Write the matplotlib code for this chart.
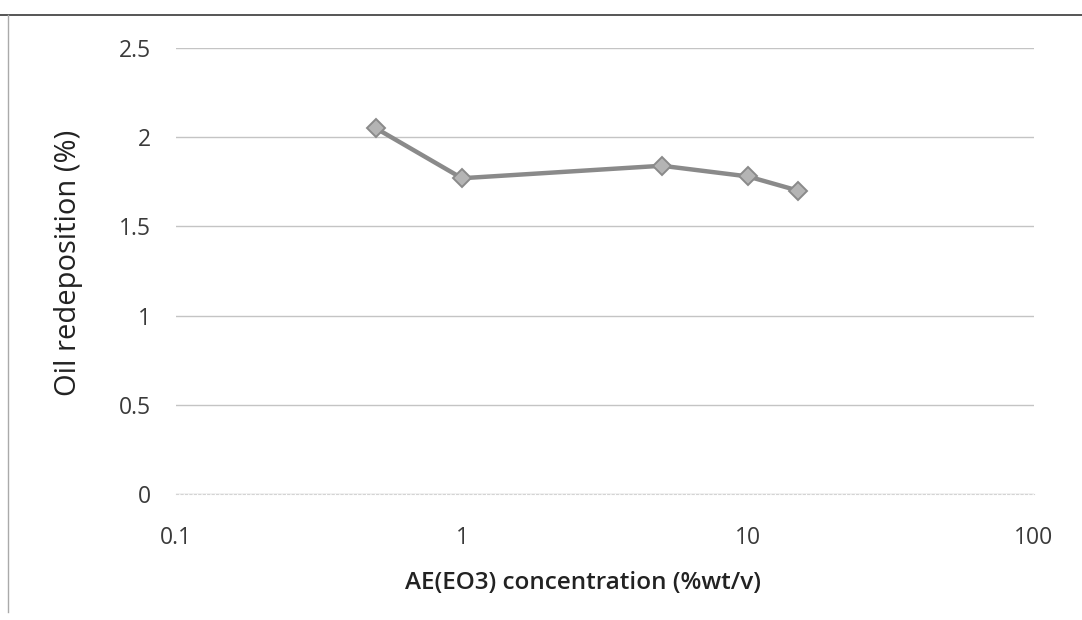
import matplotlib.pyplot as plt
from matplotlib.lines import Line2D

# AE(EO3) concentration vs. oil redeposition
concentration = [0.5, 1, 5, 10, 15]
redeposition = [2.05, 1.77, 1.84, 1.78, 1.70]

x_ticks = [0.1, 1, 10, 100]
x_tick_labels = ["0.1", "1", "10", "100"]
y_ticks = [0, 0.5, 1, 1.5, 2, 2.5]
y_tick_labels = ["0", "0.5", "1", "1.5", "2", "2.5"]

plt.rcParams['font.family'] = ['Open Sans', 'DejaVu Sans']

fig = plt.figure(figsize=(10.82, 6.2), dpi=100)
ax = fig.add_axes([176 / 1082, 1 - 494 / 620, (1034 - 176) / 1082, (494 - 48) / 620])

ax.plot(concentration, redeposition, color='#8a8a8a', linewidth=3.2,
        marker='D', markersize=9.5, markerfacecolor='#b4b4b4',
        markeredgecolor='#8a8a8a', markeredgewidth=1.4, zorder=3)

ax.set_xscale('log')
ax.set_xlim(0.1, 100)
ax.set_ylim(0, 2.5)
ax.set_xticks(x_ticks)
ax.set_xticklabels(x_tick_labels)
ax.set_xticks([], minor=True)
ax.set_yticks(y_ticks)
ax.set_yticklabels(y_tick_labels)

ax.tick_params(axis='both', length=0, labelsize=16.5, colors='#3a3a3a')
ax.tick_params(axis='x', pad=23)
ax.tick_params(axis='y', pad=18)

ax.grid(True, axis='y', color='#c4c4c4', linewidth=1.0)
ax.set_axisbelow(True)
for side in ['top', 'right', 'left']:
    ax.spines[side].set_visible(False)
ax.spines['bottom'].set_color('#d4d4d4')
ax.spines['bottom'].set_linestyle((0, (2, 2)))

ax.set_xlabel("AE(EO3) concentration (%wt/v)", fontsize=17.5, fontweight='semibold',
              color='#222222')
ax.set_ylabel("Oil redeposition (%)", fontsize=21, fontweight='normal',
              color='#222222')
ax.xaxis.set_label_coords(0.474, -0.172)
ax.yaxis.set_label_coords(-0.108, 0.518)

# chart frame lines (top and left)
fig.add_artist(Line2D([0, 1], [1 - 15 / 620, 1 - 15 / 620], color='#555555',
                      linewidth=1.4, transform=fig.transFigure))
fig.add_artist(Line2D([8 / 1082, 8 / 1082], [1 - 15 / 620, 1 - 612 / 620],
                      color='#aaaaaa', linewidth=1.0, transform=fig.transFigure))

fig.savefig("out.png", dpi=100)
